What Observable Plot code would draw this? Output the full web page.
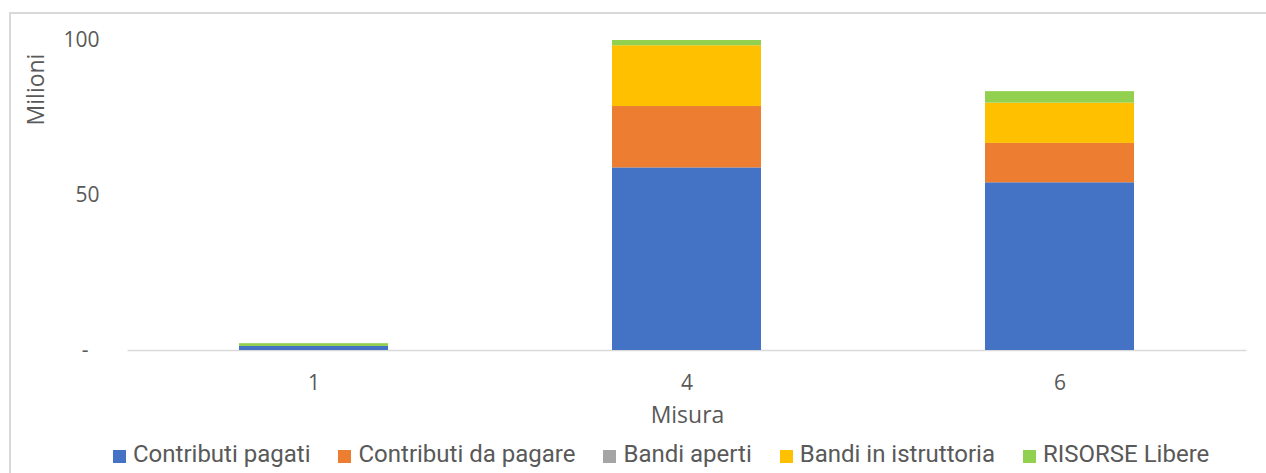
<!DOCTYPE html>
<html>
<head>
<meta charset="utf-8">
<script src="https://cdn.jsdelivr.net/npm/d3@7"></script>
<script src="https://cdn.jsdelivr.net/npm/@observablehq/plot@0.6"></script>
<style>
  html, body { margin: 0; padding: 0; background: #fff; }
  #wrap { position: relative; width: 1266px; height: 473px; overflow: hidden; background: #fff; }
  #frame { position: absolute; left: 9px; top: 12px; width: 1400px; height: 600px; border: 2px solid #d9d9d9; box-sizing: border-box; }
  #chart { position: absolute; left: 0; top: 0; }
  #legend { position: absolute; left: 113px; top: 439px; display: flex; align-items: center; font-family: Roboto, sans-serif; font-size: 24px; line-height: 30px; color: #595959; white-space: nowrap; }
  #legend .item { display: flex; align-items: center; margin-right: 28px; }
  #legend .sw { width: 13px; height: 13px; margin-right: 7px; position: relative; top: 2px; }
</style>
</head>
<body>
<div id="wrap">
  <div id="frame"></div>
  <div id="chart"></div>
  <div id="legend"></div>
</div>
<script>
const categories = ["1", "4", "6"];
const seriesNames = ["Contributi pagati", "Contributi da pagare", "Bandi aperti", "Bandi in istruttoria", "RISORSE Libere"];
const seriesColors = ["#4472C4", "#ED7D31", "#A5A5A5", "#FFC000", "#92D050"];
const contributiPagati = [1.3, 58.9, 54.1];
const contributiDaPagare = [0, 19.8, 12.7];
const bandiAperti = [0, 0, 0];
const bandiInIstruttoria = [0, 19.6, 13.0];
const risorseLibere = [0.9, 1.7, 3.7];
const yTicks = [0, 50, 100];
const yLabel = "Milioni";
const xLabel = "Misura";

const seriesValues = [contributiPagati, contributiDaPagare, bandiAperti, bandiInIstruttoria, risorseLibere];
const data = [];
seriesNames.forEach((s, si) => {
  categories.forEach((c, ci) => {
    data.push({ cat: c, series: s, value: seriesValues[si][ci] });
  });
});

const textColor = "#595959";
const axisFont = "'Open Sans', sans-serif";

const plot = Plot.plot({
  width: 1266,
  height: 430,
  marginTop: 40,
  marginBottom: 80,
  marginLeft: 127.5,
  marginRight: 19.5,
  style: { fontFamily: axisFont, fontSize: "21px", color: textColor, background: "transparent" },
  x: { domain: categories, paddingInner: 0.6, paddingOuter: 0.3, label: null },
  y: { domain: [0, 100], label: null },
  color: { domain: seriesNames, range: seriesColors },
  marks: [
    Plot.ruleY([0], { stroke: "#d9d9d9", strokeWidth: 1.5 }),
    Plot.barY(data, { x: "cat", y: "value", fill: "series", inset: 0 }),
    Plot.axisY({ ticks: yTicks, tickSize: 0, tickPadding: 28.5, label: null,
      tickFormat: d => d === 0 ? "-\u00A0\u00A0" : String(d), fill: textColor, fontSize: 21 }),
    Plot.axisX({ tickSize: 0, tickPadding: 25, label: null, fill: textColor, fontSize: 21 }),
    Plot.text([xLabel], { frameAnchor: "bottom", textAnchor: "middle", lineAnchor: "middle", dy: 65, fill: textColor, fontSize: 23 }),
    Plot.text([yLabel], { frameAnchor: "top-left", textAnchor: "middle", lineAnchor: "middle", dx: -91, dy: 49, rotate: -90, fill: textColor, fontSize: 23 })
  ]
});
document.getElementById("chart").appendChild(plot);

const legend = document.getElementById("legend");
seriesNames.forEach((s, i) => {
  const item = document.createElement("div");
  item.className = "item";
  const sw = document.createElement("span");
  sw.className = "sw";
  sw.style.background = seriesColors[i];
  const lab = document.createElement("span");
  lab.textContent = s;
  item.appendChild(sw);
  item.appendChild(lab);
  legend.appendChild(item);
});
</script>
</body>
</html>
